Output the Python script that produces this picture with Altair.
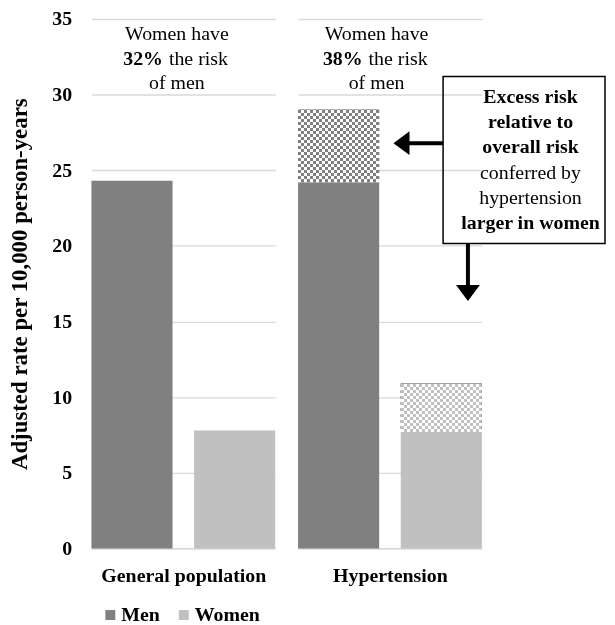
import altair as alt
import pandas as pd

# ---------------- data ----------------
categories = ["General population", "Hypertension"]
sexes = ["Men", "Women"]
men_solid = [24.3, 24.2]
women_solid = [7.8, 7.7]
men_total = [24.3, 29.0]
women_total = [7.8, 10.9]
pct_labels = ["32%", "38%"]
y_ticks = [0, 5, 10, 15, 20, 25, 30, 35]
box_lines = ["Excess risk", "relative to", "overall risk",
             "conferred by", "hypertension", "larger in women"]
box_bold = [True, True, True, False, False, True]
colors = ["#808080", "#c0c0c0"]

# ---------------- styling ----------------
FONT = "Liberation Serif"
W, H = 185, 533
YMAX = 35
PX_PER_UNIT = H / YMAX
PAD_INNER = 0.21
BAND_PX = W / (2 - PAD_INNER) * (1 - PAD_INNER)
GRID = "#d9d9d9"


def stripes(n, along_y):
    stops = []
    for k in range(n):
        c = "#000000" if k % 2 == 0 else "#ffffff"
        stops.append(alt.GradientStop(offset=k / n, color=c))
        stops.append(alt.GradientStop(offset=(k + 1) / n, color=c))
    if along_y:
        return alt.Gradient(gradient="linear", stops=stops, x1=0, x2=0, y1=0, y2=1)
    return alt.Gradient(gradient="linear", stops=stops, x1=0, x2=1, y1=0, y2=0)


def text_layer(txt, x, y, bold=False, align="center"):
    return alt.Chart(pd.DataFrame({"t": [txt]})).mark_text(
        font=FONT, fontSize=20, color="black", baseline="middle", align=align,
        fontWeight="bold" if bold else "normal",
    ).encode(x=alt.value(x), y=alt.value(y), text="t:N")


def panel(i):
    df = pd.DataFrame({
        "sex": sexes,
        "solid": [men_solid[i], women_solid[i]],
        "total": [men_total[i], women_total[i]],
    })
    xenc = alt.X(
        "sex:N",
        scale=alt.Scale(domain=sexes, paddingInner=PAD_INNER, paddingOuter=0.0),
        axis=alt.Axis(labels=False, ticks=False, domainColor=GRID, domainWidth=1.3,
                      title=categories[i], titleFont=FONT, titleFontSize=20,
                      titleFontWeight="bold", titlePadding=17, titleColor="black"),
    )
    yscale = alt.Scale(domain=[0, YMAX], nice=False)
    if i == 0:
        yaxis = alt.Axis(values=y_ticks, grid=True, gridColor=GRID, gridWidth=1.3,
                         domain=False, ticks=False, labelFont=FONT, labelFontSize=20,
                         labelFontWeight="bold", labelPadding=20, labelColor="black",
                         title="Adjusted rate per 10,000 person-years", titleFont=FONT,
                         titleFontSize=23, titleFontWeight="bold", titlePadding=20,
                         titleColor="black")
    else:
        yaxis = alt.Axis(values=y_ticks, grid=True, gridColor=GRID, gridWidth=1.3,
                         domain=False, ticks=False, labels=False, title="")
    base = alt.Chart(df)
    layers = [
        base.mark_bar().encode(
            x=xenc,
            y=alt.Y("solid:Q", scale=yscale, axis=yaxis),
            color=alt.Color("sex:N", scale=alt.Scale(domain=sexes, range=colors),
                            legend=alt.Legend(title="", orient="none", legendX=9, legendY=590,
                                              direction="horizontal", symbolType="square",
                                              symbolSize=100, symbolStrokeWidth=0,
                                              labelFont=FONT, labelFontSize=20,
                                              labelFontWeight="bold", labelColor="black",
                                              labelOffset=1, columnPadding=14)),
        )
    ]
    # checkered excess-risk segments
    for j, s in enumerate(sexes):
        top = df.loc[j, "total"]
        bot = df.loc[j, "solid"]
        if top > bot:
            n_h = max(2, round((top - bot) * PX_PER_UNIT / 3))
            n_v = max(2, round(BAND_PX / 3))
            sub = base.transform_filter(alt.datum.sex == s)
            enc = dict(x=alt.X("sex:N"), y=alt.Y("solid:Q"), y2=alt.Y2("total:Q"))
            layers.append(sub.mark_bar(fill=stripes(n_h, True)).encode(**enc))
            layers.append(sub.mark_bar(fill=stripes(n_v, False), blend="difference").encode(**enc))
            layers.append(sub.mark_bar(fill=colors[j], blend="lighten").encode(**enc))

    # top annotation
    cx = [86, 79][i]
    split = [72, 65][i]
    layers.append(text_layer("Women have", cx, 15))
    layers.append(text_layer(pct_labels[i], split, 40, bold=True, align="right"))
    layers.append(text_layer("the risk", split + 6, 40, align="left"))
    layers.append(text_layer("of men", cx, 64))

    if i == 1:
        # call-out box
        layers.append(alt.Chart(pd.DataFrame({"a": [0]})).mark_rect(
            fillOpacity=0, stroke="black", strokeWidth=1.5
        ).encode(x=alt.value(146), x2=alt.value(309), y=alt.value(58), y2=alt.value(226)))
        bdf = pd.DataFrame({"t": box_lines, "b": box_bold, "k": list(range(len(box_lines)))})
        for flag in (True, False):
            layers.append(alt.Chart(bdf).transform_filter(
                alt.datum.b == flag
            ).transform_calculate(
                ypos="79 + 25.2 * datum.k"
            ).mark_text(
                font=FONT, fontSize=20, color="black", baseline="middle", align="center",
                fontWeight="bold" if flag else "normal",
            ).encode(x=alt.value(234), y=alt.Y("ypos:Q", scale=None), text="t:N"))
        # arrows
        one = pd.DataFrame({"a": [0]})
        layers.append(alt.Chart(one).mark_rule(color="black", strokeWidth=4).encode(
            x=alt.value(111), x2=alt.value(146), y=alt.value(125)))
        layers.append(alt.Chart(one).mark_point(
            shape="M -1 0 L 0.35 -1 L 0.35 1 Z", size=576, filled=True,
            color="black", opacity=1, strokeWidth=0
        ).encode(x=alt.value(108), y=alt.value(125)))
        layers.append(alt.Chart(one).mark_rule(color="black", strokeWidth=4).encode(
            x=alt.value(171), y=alt.value(226), y2=alt.value(270)))
        layers.append(alt.Chart(one).mark_point(
            shape="M 0 1 L -1 -0.35 L 1 -0.35 Z", size=576, filled=True,
            color="black", opacity=1, strokeWidth=0
        ).encode(x=alt.value(171), y=alt.value(272)))

    return alt.layer(*layers).properties(width=W, height=H)


chart = alt.hconcat(panel(0), panel(1), spacing=21).configure_view(
    stroke="transparent"
).properties(padding={"left": 0, "top": -2, "right": 0, "bottom": 0})

chart.save("out.html", embed_options={"renderer": "svg", "actions": False})
